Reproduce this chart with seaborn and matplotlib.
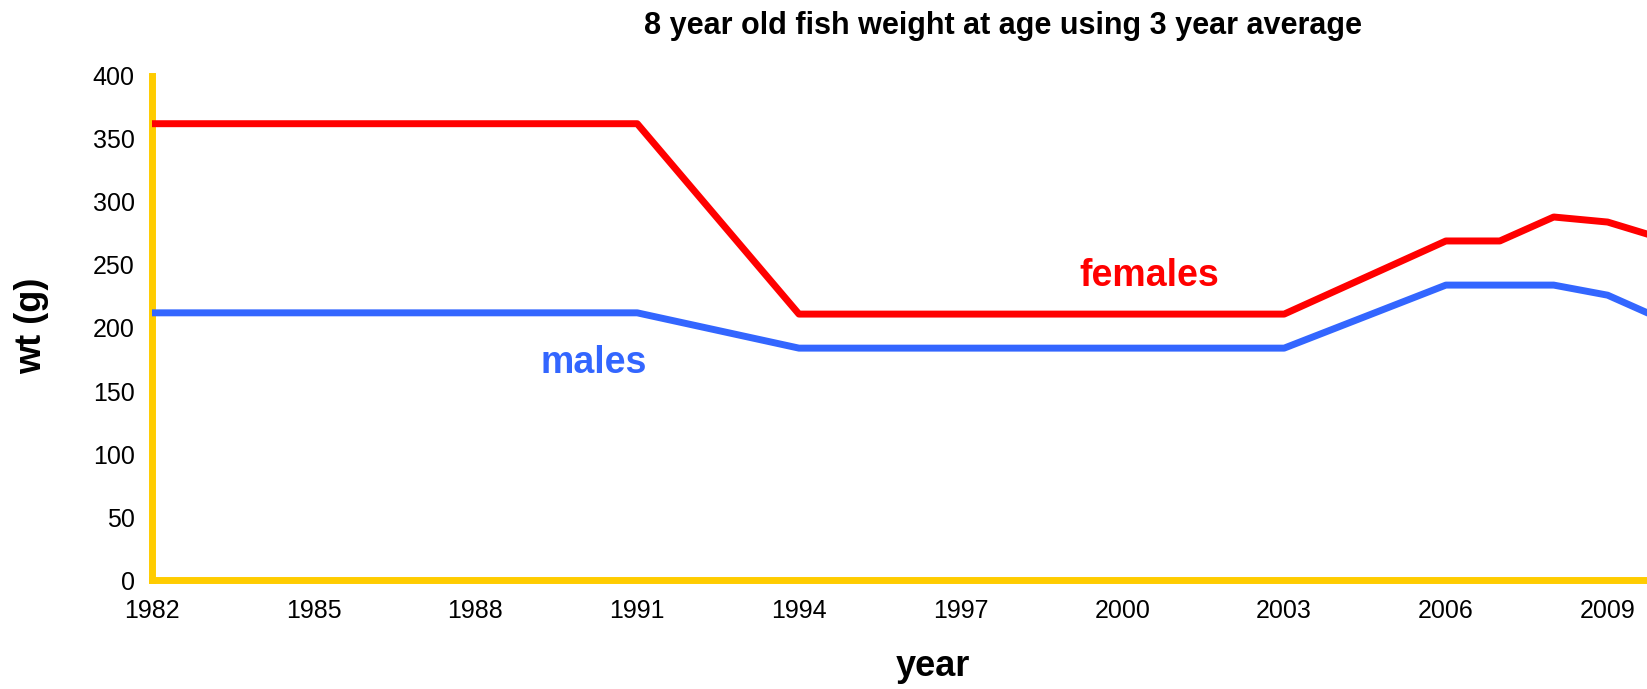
import matplotlib
matplotlib.use("Agg")
import matplotlib.pyplot as plt
import seaborn as sns
import pandas as pd

years_f = [1982, 1991, 1994, 2003, 2006, 2007, 2008, 2009, 2010]
females = [362, 362, 211, 211, 269, 269, 288, 284, 271]
years_m = [1982, 1991, 1994, 2003, 2006, 2007, 2008, 2009, 2010]
males = [212, 212, 184, 184, 234, 234, 234, 226, 207]
x_ticks = list(range(1982, 2010, 3))
y_ticks = list(range(0, 401, 50))

df = pd.concat([
    pd.DataFrame({"year": years_f, "wt": females, "sex": "females"}),
    pd.DataFrame({"year": years_m, "wt": males, "sex": "males"}),
])

sns.set_style("white")
plt.rcParams['font.family'] = ['Liberation Sans', 'DejaVu Sans']
plt.rcParams['text.color'] = 'black'

fig = plt.figure(figsize=(16.47, 6.89), dpi=100)
ax = fig.add_axes([0.0923, 0.158, 0.982, 0.732])
palette = {"females": "#FF0000", "males": "#3366FF"}
sns.lineplot(data=df, x="year", y="wt", hue="sex", palette=palette,
             linewidth=5, legend=False, ax=ax)

ax.set_xlim(1982, 2012)
ax.set_ylim(0, 400)
ax.set_xticks(x_ticks)
ax.set_yticks(y_ticks)
ax.set_xticklabels([str(t) for t in x_ticks])
ax.set_yticklabels([str(t) for t in y_ticks])

for s in ["top", "right"]:
    ax.spines[s].set_visible(False)
for s in ["left", "bottom"]:
    ax.spines[s].set_color("#FFCC00")
    ax.spines[s].set_linewidth(5)
    ax.spines[s].set_capstyle("projecting")
    ax.spines[s].set_zorder(1)
ax.tick_params(axis="both", which="major", direction="out", length=3.5,
               width=5, color="#FFCC00", labelsize=18,
               labelcolor="black")
ax.tick_params(axis="x", pad=10)
ax.tick_params(axis="y", pad=9)

ax.set_xlabel("")
ax.set_ylabel("")
fig.text(0.5665, 0.032, "year", ha="center", va="center",
         fontsize=26, fontweight="bold", color="black")
fig.text(0.019, 0.527, "wt (g)", ha="center", va="center", rotation=90,
         fontsize=26, fontweight="bold", color="black")
fig.text(0.609, 0.962, "8 year old fish weight at age using 3 year average",
         ha="center", va="center", fontsize=22, fontweight="bold", color="black")

ax.text(2000.5, 241, "females", color="#FF0000", fontsize=27,
        fontweight="bold", ha="center", va="center")
ax.text(1990.2, 172, "males", color="#3366FF", fontsize=27,
        fontweight="bold", ha="center", va="center")

fig.savefig("out.png", dpi=100)
